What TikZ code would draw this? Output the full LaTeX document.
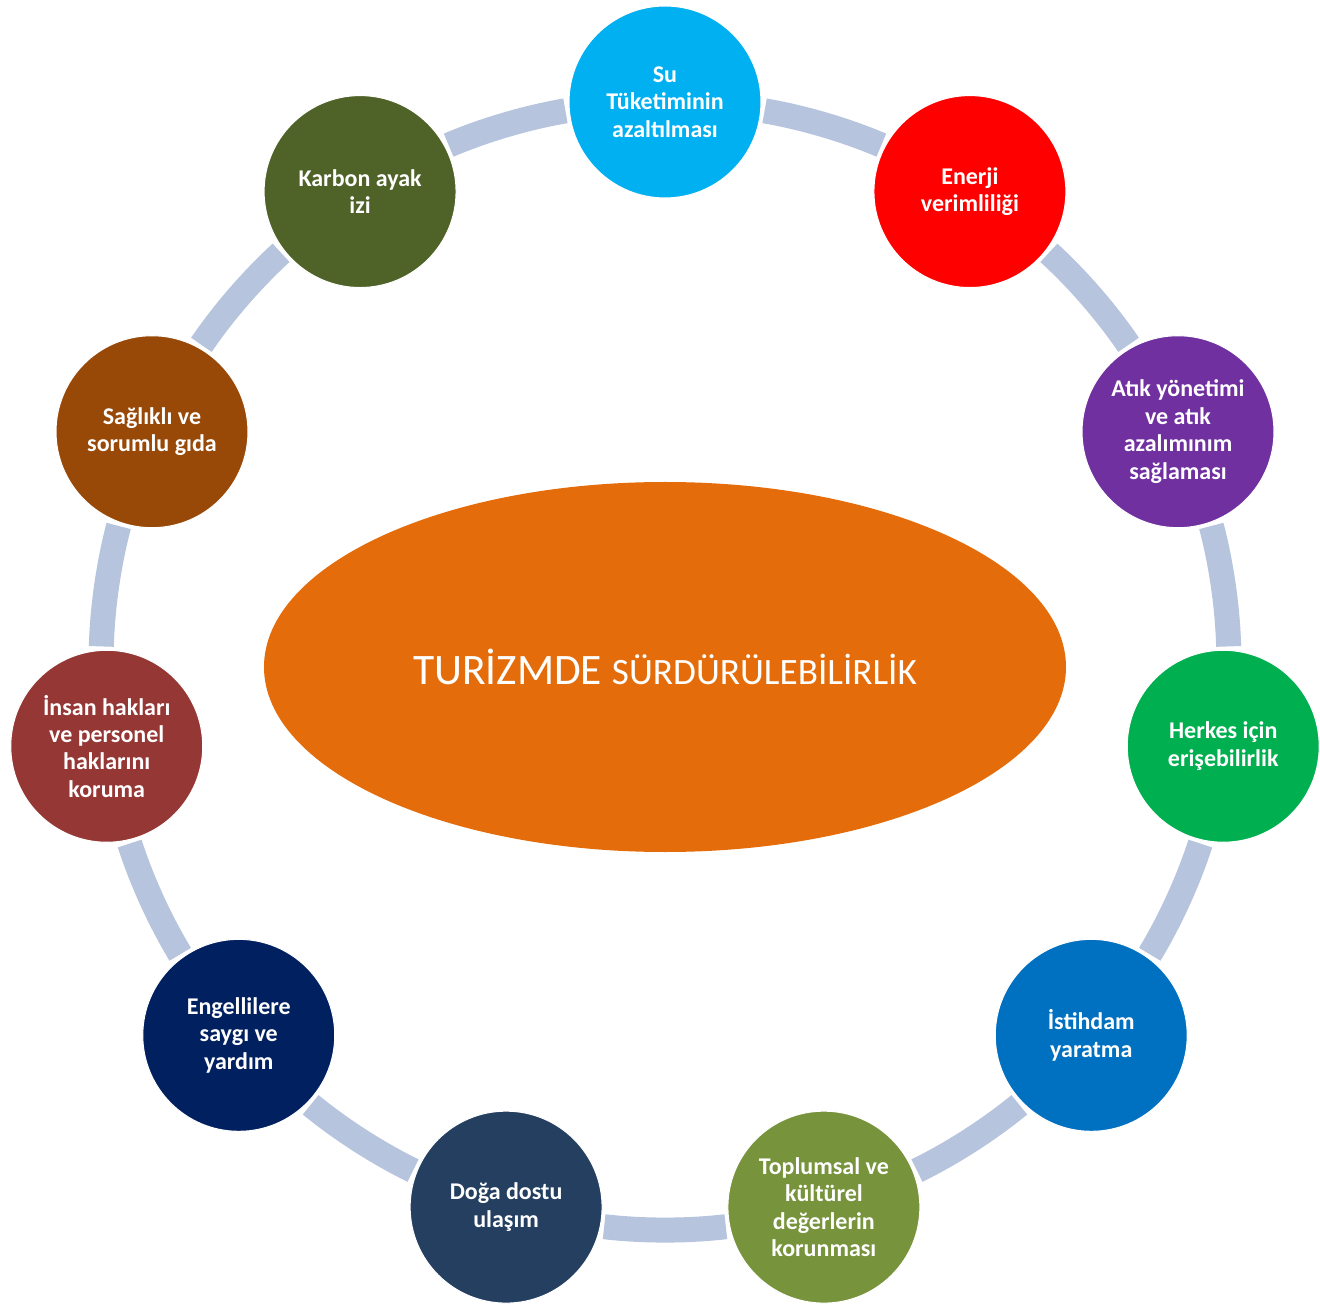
\documentclass[tikz,border=0pt]{standalone}
\usepackage{fontspec}
\setmainfont{Carlito}
\usetikzlibrary{shapes.geometric}
\definecolor{cSu}{HTML}{00B0F0}
\definecolor{cEn}{HTML}{FF0000}
\definecolor{cAt}{HTML}{7030A0}
\definecolor{cHe}{HTML}{00B050}
\definecolor{cIs}{HTML}{0070C0}
\definecolor{cTo}{HTML}{77933C}
\definecolor{cDo}{HTML}{243F60}
\definecolor{cEg}{HTML}{002060}
\definecolor{cIn}{HTML}{953735}
\definecolor{cSa}{HTML}{984807}
\definecolor{cKa}{HTML}{4F6228}
\definecolor{cOr}{HTML}{E46C0A}
\definecolor{cBand}{RGB}{182,196,222}
\tikzset{
  bub/.style={circle, minimum size=144pt, inner sep=0pt, outer sep=0pt,
    draw=white, line width=0.8pt, text=white, align=center,
    font=\bfseries\fontsize{18}{20.6}\selectfont},
  band/.style={draw=cBand, line width=18.75pt, shorten <=3pt, shorten >=3pt}
}
\begin{document}
\begin{tikzpicture}[x=0.75pt, y=0.75pt]
\useasboundingbox (-665,-640) rectangle (655,666);
\fill[white] (-665,-640) rectangle (655,666);
\node[ellipse, fill=cOr, minimum width=601.5pt, minimum height=277.5pt,
  inner sep=0pt, text=white] (mid) at (0,-1)
  {{\fontsize{32.6}{36}\selectfont TURİZMDE }{\fontsize{27.9}{32}\selectfont SÜRDÜRÜLEBİLİRLİK}};
\node[bub, fill=cSu] (c0) at ({90-0*360/11}:564) {Su\\Tüketiminin\\azaltılması};
\node[bub, fill=cEn] (c1) at ({90-1*360/11}:564) {Enerji\\verimliliği};
\node[bub, fill=cAt] (c2) at ({90-2*360/11}:564) {Atık yönetimi\\ve atık\\azalımınım\\sağlaması};
\node[bub, fill=cHe] (c3) at ({90-3*360/11}:564) {Herkes için\\erişebilirlik};
\node[bub, fill=cIs] (c4) at ({90-4*360/11}:564) {İstihdam\\yaratma};
\node[bub, fill=cTo] (c5) at ({90-5*360/11}:564) {Toplumsal ve\\kültürel\\değerlerin\\korunması};
\node[bub, fill=cDo] (c6) at ({90-6*360/11}:564) {Doğa dostu\\ulaşım};
\node[bub, fill=cEg] (c7) at ({90-7*360/11}:564) {Engellilere\\saygı ve\\yardım};
\node[bub, fill=cIn] (c8) at ({90-8*360/11}:564) {İnsan hakları\\ve personel\\haklarını\\koruma};
\node[bub, fill=cSa] (c9) at ({90-9*360/11}:564) {Sağlıklı ve\\sorumlu gıda};
\node[bub, fill=cKa] (c10) at ({90-10*360/11}:564) {Karbon ayak\\izi};
\foreach \i in {0,...,10}{
  \pgfmathtruncatemacro{\j}{mod(\i+1,11)}
  \pgfmathsetmacro{\ea}{90-\i*360/11-94.88}
  \pgfmathsetmacro{\eb}{90-(\i+1)*360/11+94.88}
  \draw[band] ([shift={(\ea:72pt)}]c\i.center) to[bend left=6.6, looseness=0.854] ([shift={(\eb:72pt)}]c\j.center);
}
\end{tikzpicture}
\end{document}
